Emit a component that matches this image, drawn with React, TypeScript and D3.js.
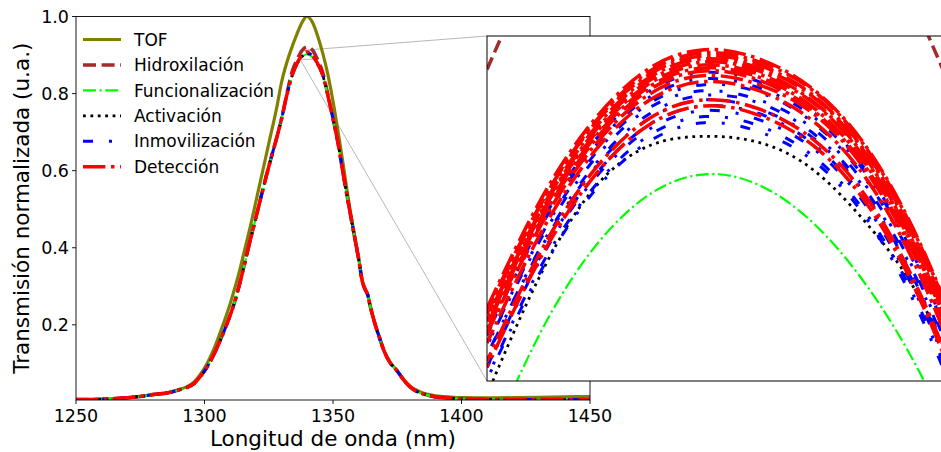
import React from "react";
import * as d3 from "d3";

// ---------- main plot data ----------
const wavelengths = [1250, 1260, 1270, 1276, 1280, 1286, 1290, 1293, 1296, 1298, 1300, 1302, 1304, 1306, 1308, 1310, 1312, 1314, 1316, 1318, 1320, 1322, 1324, 1326, 1328, 1330, 1332, 1334, 1336, 1338, 1339.8, 1342, 1344, 1346, 1348, 1350, 1352, 1354, 1356, 1358, 1360, 1361.5, 1362.5, 1363.5, 1364.5, 1366, 1368, 1370, 1372, 1375, 1378, 1380, 1383, 1386, 1390, 1395, 1400, 1410, 1420, 1430, 1440, 1450];

const tofValues = [0.006, 0.007, 0.011, 0.015, 0.019, 0.025, 0.032, 0.039, 0.052, 0.068, 0.088, 0.113, 0.143, 0.178, 0.215, 0.255, 0.3, 0.35, 0.405, 0.46, 0.52, 0.58, 0.64, 0.7, 0.76, 0.83, 0.88, 0.92, 0.955, 0.985, 1.0, 0.985, 0.95, 0.905, 0.85, 0.78, 0.7, 0.615, 0.525, 0.447, 0.372, 0.312, 0.293, 0.279, 0.249, 0.211, 0.169, 0.131, 0.105, 0.081, 0.054, 0.041, 0.029, 0.021, 0.016, 0.013, 0.011, 0.0105, 0.011, 0.012, 0.013, 0.014];

const hidroxilacionValues = [0.006, 0.007, 0.011, 0.015, 0.019, 0.024, 0.031, 0.037, 0.048, 0.063, 0.08, 0.102, 0.128, 0.158, 0.19, 0.225, 0.265, 0.315, 0.37, 0.425, 0.478, 0.532, 0.585, 0.635, 0.683, 0.735, 0.798, 0.855, 0.888, 0.912, 0.921, 0.913, 0.888, 0.855, 0.797, 0.735, 0.67, 0.59, 0.515, 0.442, 0.37, 0.31, 0.292, 0.278, 0.248, 0.21, 0.168, 0.13, 0.104, 0.08, 0.053, 0.039, 0.026, 0.019, 0.013, 0.0105, 0.0078, 0.0065, 0.006, 0.006, 0.006, 0.006];

const funcionalizacionValues = [0.006, 0.007, 0.011, 0.015, 0.019, 0.024, 0.031, 0.037, 0.048, 0.063, 0.08, 0.102, 0.128, 0.158, 0.19, 0.225, 0.265, 0.315, 0.37, 0.425, 0.478, 0.532, 0.585, 0.635, 0.683, 0.735, 0.794, 0.843, 0.874, 0.895, 0.902, 0.894, 0.873, 0.846, 0.795, 0.735, 0.67, 0.59, 0.515, 0.442, 0.37, 0.31, 0.292, 0.278, 0.248, 0.21, 0.168, 0.13, 0.104, 0.08, 0.053, 0.039, 0.026, 0.019, 0.013, 0.0105, 0.0078, 0.0065, 0.006, 0.006, 0.006, 0.006];

const activacionValues = [0.006, 0.007, 0.011, 0.015, 0.019, 0.024, 0.031, 0.037, 0.048, 0.063, 0.08, 0.102, 0.128, 0.158, 0.19, 0.225, 0.265, 0.315, 0.37, 0.425, 0.478, 0.532, 0.585, 0.635, 0.683, 0.735, 0.795, 0.845, 0.877, 0.897, 0.904, 0.897, 0.876, 0.848, 0.795, 0.735, 0.67, 0.59, 0.515, 0.442, 0.37, 0.31, 0.292, 0.278, 0.248, 0.21, 0.168, 0.13, 0.104, 0.08, 0.053, 0.039, 0.026, 0.019, 0.013, 0.0105, 0.0078, 0.0065, 0.006, 0.006, 0.006, 0.006];

const inmovilizacionValues = [0.006, 0.007, 0.011, 0.015, 0.019, 0.024, 0.031, 0.037, 0.048, 0.063, 0.08, 0.102, 0.128, 0.158, 0.19, 0.225, 0.265, 0.315, 0.37, 0.425, 0.478, 0.532, 0.585, 0.635, 0.683, 0.735, 0.795, 0.845, 0.878, 0.899, 0.906, 0.898, 0.877, 0.848, 0.795, 0.735, 0.67, 0.59, 0.515, 0.442, 0.37, 0.31, 0.292, 0.278, 0.248, 0.21, 0.168, 0.13, 0.104, 0.08, 0.053, 0.039, 0.026, 0.019, 0.013, 0.0105, 0.0078, 0.0065, 0.006, 0.006, 0.006, 0.006];

const deteccionValues = [0.006, 0.007, 0.011, 0.015, 0.019, 0.024, 0.031, 0.037, 0.048, 0.063, 0.08, 0.102, 0.128, 0.158, 0.19, 0.225, 0.265, 0.315, 0.37, 0.425, 0.478, 0.532, 0.585, 0.635, 0.683, 0.735, 0.795, 0.845, 0.879, 0.9, 0.908, 0.899, 0.878, 0.848, 0.795, 0.735, 0.67, 0.59, 0.515, 0.442, 0.37, 0.31, 0.292, 0.278, 0.248, 0.21, 0.168, 0.13, 0.104, 0.08, 0.053, 0.039, 0.026, 0.019, 0.013, 0.0105, 0.0078, 0.0065, 0.006, 0.006, 0.006, 0.006];

// ---------- inset (zoom) data ----------
const insetWavelengths = [1337.2, 1337.8, 1338.4, 1339.0, 1339.6, 1340.2, 1340.8, 1341.4, 1342.0, 1342.6];
const insetHidroxilacion = [0.9095, 0.917, 0.9215, 0.9238, 0.9245, 0.9243, 0.923, 0.92, 0.9127, 0.9045];
const insetFuncionalizacion = [0.8846, 0.8923, 0.8979, 0.9013, 0.9026, 0.9019, 0.8994, 0.8952, 0.8893, 0.8817];
const insetActivacion = [0.8881, 0.8961, 0.9018, 0.9045, 0.9051, 0.9047, 0.9029, 0.8993, 0.8942, 0.886];
const insetInmovilizacion = [
  [0.892, 0.8994, 0.9049, 0.9081, 0.9093, 0.9087, 0.9067, 0.9027, 0.8961, 0.8873],
  [0.8921, 0.8992, 0.9045, 0.9077, 0.9089, 0.9083, 0.9064, 0.9025, 0.896, 0.8872],
  [0.8913, 0.8986, 0.904, 0.9073, 0.9085, 0.908, 0.906, 0.9021, 0.8957, 0.8869],
  [0.8913, 0.8984, 0.9037, 0.907, 0.9081, 0.9075, 0.9056, 0.9017, 0.8952, 0.8864],
  [0.8906, 0.8979, 0.9033, 0.9066, 0.9078, 0.9073, 0.9053, 0.9014, 0.895, 0.8862],
  [0.8907, 0.8978, 0.9031, 0.9063, 0.9075, 0.9069, 0.905, 0.9011, 0.8946, 0.8858],
  [0.8899, 0.8973, 0.9026, 0.9059, 0.9071, 0.9066, 0.9046, 0.9007, 0.8943, 0.8855],
  [0.8899, 0.8971, 0.9024, 0.9056, 0.9068, 0.9062, 0.9043, 0.9004, 0.8939, 0.8851],
  [0.8892, 0.8966, 0.9019, 0.9052, 0.9064, 0.9058, 0.9038, 0.8999, 0.8935, 0.8847],
  [0.8891, 0.8963, 0.9016, 0.9048, 0.906, 0.9054, 0.9035, 0.8996, 0.8931, 0.8843],
];
const insetDeteccion = [
  [0.8938, 0.901, 0.9063, 0.9096, 0.9108, 0.9102, 0.9082, 0.9043, 0.8978, 0.889],
  [0.8934, 0.9007, 0.9061, 0.9094, 0.9106, 0.91, 0.9081, 0.9042, 0.8977, 0.8889],
  [0.8936, 0.9007, 0.906, 0.9092, 0.9104, 0.9098, 0.9078, 0.9039, 0.8974, 0.8886],
  [0.893, 0.9003, 0.9057, 0.909, 0.9102, 0.9096, 0.9077, 0.9038, 0.8973, 0.8885],
  [0.8931, 0.9002, 0.9055, 0.9088, 0.91, 0.9094, 0.9074, 0.9035, 0.8969, 0.8881],
  [0.8927, 0.9, 0.9053, 0.9086, 0.9098, 0.9092, 0.9073, 0.9034, 0.8969, 0.888],
  [0.8926, 0.8998, 0.9051, 0.9084, 0.9096, 0.909, 0.907, 0.9031, 0.8966, 0.8878],
  [0.8923, 0.8996, 0.9049, 0.9082, 0.9094, 0.9088, 0.9068, 0.9029, 0.8964, 0.8876],
  [0.8921, 0.8993, 0.9046, 0.9079, 0.9091, 0.9085, 0.9066, 0.9027, 0.8962, 0.8874],
  [0.8915, 0.8988, 0.9042, 0.9075, 0.9087, 0.9081, 0.9061, 0.9022, 0.8957, 0.8869],
  [0.8903, 0.8976, 0.903, 0.9063, 0.9075, 0.9069, 0.9049, 0.901, 0.8945, 0.8857],
  [0.8899, 0.8972, 0.9026, 0.9059, 0.9071, 0.9065, 0.9045, 0.9006, 0.8941, 0.8853],
];

const xTicks = [1250, 1300, 1350, 1400, 1450];
const yTicks = [0.2, 0.4, 0.6, 0.8, 1.0];
const insetXRange = [1337.2, 1342.3];
const insetYRange = [0.889, 0.9117];

const seriesNames = ["TOF", "Hidroxilación", "Funcionalización", "Activación", "Inmovilización", "Detección"];

const styles: Record<string, { color: string; width: number; dash: string | null }> = {
  TOF: { color: "#808000", width: 3.2, dash: null },
  "Hidroxilación": { color: "#a52a2a", width: 3.5, dash: "13,5.6" },
  "Funcionalización": { color: "#00ff00", width: 2.2, dash: "13,3.5,2.2,3.5" },
  "Activación": { color: "#000000", width: 2.8, dash: "2.8,4.6" },
  "Inmovilización": { color: "#0000ff", width: 3, dash: "10,16,3,16" },
  "Detección": { color: "#ff0000", width: 3.5, dash: "22.4,5.6,3.5,5.6" },
};

const FONT = "DejaVu Sans, sans-serif";

export default function App() {
  const L = 76, R = 590, T = 16.5, B = 400;
  const x = d3.scaleLinear().domain([1250, 1450]).range([L, R]);
  const y = d3.scaleLinear().domain([0.005, 1.0]).range([B, T]);

  const IL = 487, IR = 949, IT = 36, IB = 381;
  const ix = d3.scaleLinear().domain(insetXRange).range([IL, IR]);
  const iy = d3.scaleLinear().domain(insetYRange).range([IB, IT]);

  const mainLine = d3
    .line<[number, number]>()
    .x((d) => x(d[0]))
    .y((d) => y(d[1]))
    .curve(d3.curveMonotoneX);
  const insetLine = d3
    .line<[number, number]>()
    .x((d) => ix(d[0]))
    .y((d) => iy(d[1]))
    .curve(d3.curveNatural);

  const mainSeries: [string, number[]][] = [
    ["TOF", tofValues],
    ["Hidroxilación", hidroxilacionValues],
    ["Funcionalización", funcionalizacionValues],
    ["Activación", activacionValues],
    ["Inmovilización", inmovilizacionValues],
    ["Detección", deteccionValues],
  ];

  const zip = (xs: number[], vs: number[]) => xs.map((w, i) => [w, vs[i]] as [number, number]);

  const rx0 = x(insetXRange[0]), rx1 = x(insetXRange[1]);
  const ry0 = y(insetYRange[1]), ry1 = y(insetYRange[0]);

  const pathProps = (name: string, offset = 0) => {
    const s = styles[name];
    return {
      fill: "none",
      stroke: s.color,
      strokeWidth: s.width,
      strokeDasharray: s.dash ?? undefined,
      strokeDashoffset: offset,
      strokeLinecap: "butt" as const,
      strokeLinejoin: "round" as const,
    };
  };

  return (
    <svg width={941} height={452} style={{ position: "absolute", left: 0, top: 0, background: "#fff" }} fontFamily={FONT}>
      <defs>
        <clipPath id="mainClip">
          <rect x={L} y={T} width={R - L} height={B - T} />
        </clipPath>
        <clipPath id="insetClip">
          <rect x={IL} y={IT} width={IR - IL} height={IB - IT} />
        </clipPath>
      </defs>
      <rect x={0} y={0} width={941} height={452} fill="#fff" />

      {/* zoom indicator */}
      <g stroke="#b8b8b8" strokeWidth={1} fill="none">
        <rect x={rx0} y={ry0} width={rx1 - rx0} height={ry1 - ry0} />
        <line x1={rx0} y1={ry0} x2={IL} y2={IT} />
        <line x1={rx0} y1={ry1} x2={IL} y2={IB} />
      </g>

      {/* main curves */}
      <g clipPath="url(#mainClip)">
        {mainSeries.map(([name, vals]) => (
          <path key={name} d={mainLine(zip(wavelengths, vals)) ?? ""} {...pathProps(name)} />
        ))}
      </g>

      {/* spines */}
      <rect x={L} y={T} width={R - L} height={B - T} fill="none" stroke="#000" strokeWidth={0.9} />

      {/* ticks */}
      {xTicks.map((t) => (
        <g key={"xt" + t}>
          <line x1={x(t)} x2={x(t)} y1={B} y2={B + 4} stroke="#000" strokeWidth={0.9} />
          <text x={x(t)} y={421.5} fontSize={17.5} textAnchor="middle" fill="#000">
            {t}
          </text>
        </g>
      ))}
      {yTicks.map((t) => (
        <g key={"yt" + t}>
          <line x1={L - 4} x2={L} y1={y(t)} y2={y(t)} stroke="#000" strokeWidth={0.9} />
          <text x={L - 7} y={y(t)} dy="0.36em" fontSize={17.5} textAnchor="end" fill="#000">
            {t.toFixed(1)}
          </text>
        </g>
      ))}

      {/* axis labels */}
      <text x={(L + R) / 2} y={446} fontSize={21.5} textAnchor="middle" fill="#000">
        Longitud de onda (nm)
      </text>
      <text transform={`translate(29, ${(T + B) / 2}) rotate(-90)`} fontSize={21.5} textAnchor="middle" fill="#000">
        Transmisión normalizada (u.a.)
      </text>

      {/* legend */}
      {seriesNames.map((name, i) => {
        const cy = 39.5 + i * 25.45;
        return (
          <g key={"lg" + name}>
            <line x1={83} x2={121} y1={cy} y2={cy} {...pathProps(name)} />
            <text x={134} y={cy} dy="0.36em" fontSize={17} fill="#000">
              {name}
            </text>
          </g>
        );
      })}

      {/* inset */}
      <rect x={IL} y={IT} width={IR - IL} height={IB - IT} fill="#fff" />
      <g clipPath="url(#insetClip)">
        <path d={insetLine(zip(insetWavelengths, insetHidroxilacion)) ?? ""} {...pathProps("Hidroxilación")} />
        <path d={insetLine(zip(insetWavelengths, insetFuncionalizacion)) ?? ""} {...pathProps("Funcionalización")} />
        <path d={insetLine(zip(insetWavelengths, insetActivacion)) ?? ""} {...pathProps("Activación")} />
        {insetInmovilizacion.map((vals, i) => (
          <path key={"ib" + i} d={insetLine(zip(insetWavelengths, vals)) ?? ""} {...pathProps("Inmovilización", i * 7)} />
        ))}
        {insetDeteccion.map((vals, i) => (
          <path key={"ir" + i} d={insetLine(zip(insetWavelengths, vals)) ?? ""} {...pathProps("Detección", i * 5)} />
        ))}
      </g>
      <rect x={IL} y={IT} width={IR - IL} height={IB - IT} fill="none" stroke="#000" strokeWidth={1} />
    </svg>
  );
}
